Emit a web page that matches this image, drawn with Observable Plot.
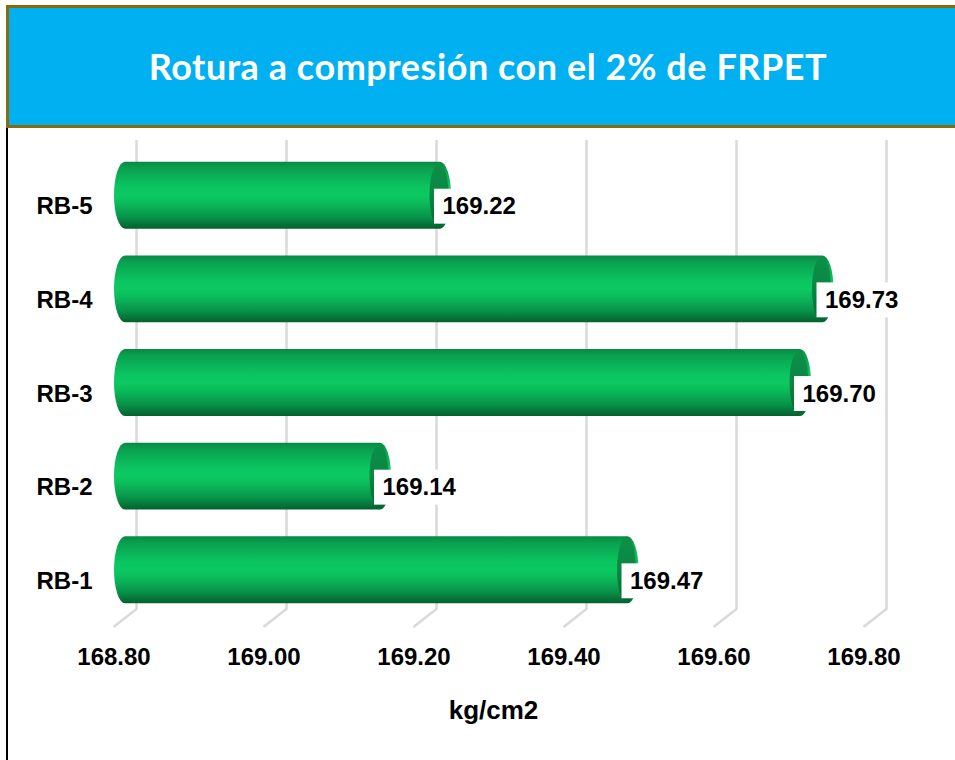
<!DOCTYPE html>
<html>
<head>
<meta charset="utf-8">
<script src="https://cdn.jsdelivr.net/npm/d3@7"></script>
<script src="https://cdn.jsdelivr.net/npm/@observablehq/plot@0.6"></script>
<style>
  html, body { margin: 0; padding: 0; background: #ffffff; }
  #wrap { position: relative; width: 955px; height: 760px; overflow: hidden; background: #fff; }
  #banner {
    position: absolute; left: 6px; top: 5px; width: 962px; height: 123px;
    box-sizing: border-box; border: 3px solid #8a6a0c; background: #00b0f0;
    display: flex; align-items: center; justify-content: center; z-index: 2;
  }
  #banner h1 {
    margin: 0; color: #fff; font-family: Lato, "Open Sans", sans-serif; font-weight: 700;
    font-size: 36px; letter-spacing: 0.55px; padding-left: 2px; padding-bottom: 2px;
  }
  #leftline { position: absolute; left: 6px; top: 128px; width: 2px; height: 640px; background: #000; z-index: 2; }
  #chart { position: absolute; left: 0; top: 128px; }
</style>
</head>
<body>
<div id="wrap">
  <div id="banner"><h1 id="title"></h1></div>
  <div id="leftline"></div>
  <div id="chart"></div>
</div>
<script>
const title = "Rotura a compresión con el 2% de FRPET";
const xLabel = "kg/cm2";
const categories = ["RB-5", "RB-4", "RB-3", "RB-2", "RB-1"];
const values = [169.22, 169.73, 169.70, 169.14, 169.47];
const xDomain = [168.8, 169.8];
const xTicks = [168.8, 169.0, 169.2, 169.4, 169.6, 169.8];

document.getElementById("title").textContent = title;

const data = categories.map((c, i) => ({cat: c, value: values[i]}));
const base = xDomain[0];
const fmt = d => d.toFixed(2);

// 3D depth offsets (style)
const depthX = 23, depthY = 18;
const midX = 11.5, midY = -11;

function gridMark(index, scales, vals, dims) {
  const ns = "http://www.w3.org/2000/svg";
  const g = document.createElementNS(ns, "g");
  const sx = scales.x;
  const top = dims.marginTop - 6;
  const backBottom = dims.height - dims.marginBottom - 32;
  const frontBottom = backBottom + depthY;
  for (const t of xTicks) {
    const x = sx(t);
    const p = document.createElementNS(ns, "path");
    p.setAttribute("d", `M${x + depthX},${top}V${backBottom}L${x},${frontBottom}`);
    p.setAttribute("fill", "none");
    p.setAttribute("stroke", "#d9d9d9");
    p.setAttribute("stroke-width", "2.5");
    g.appendChild(p);
  }
  return g;
}

const chart = Plot.plot({
  width: 955,
  height: 632,
  marginLeft: 113.5,
  marginRight: 91.5,
  marginTop: 18,
  marginBottom: 119,
  style: {fontFamily: "'Liberation Sans', Arial, sans-serif", fontWeight: "bold", color: "#000", background: "#fff", overflow: "visible"},
  x: {domain: xDomain},
  y: {domain: categories, padding: 0.2853, round: false},
  marks: [
    gridMark,
    // cylinder body
    Plot.barX(data, {
      y: "cat", x1: () => base, x2: "value",
      dx: midX, dy: midY, insetLeft: -11, insetRight: -11,
      rx: 11, ry: 33.5,
      fill: "url(#bodyGrad)"
    }),
    // end cap face (ellipse)
    Plot.barX(data, {
      y: "cat", x1: "value", x2: "value",
      dx: midX - 1, dy: midY, insetLeft: -9.5, insetRight: -9.5, insetTop: 1.5, insetBottom: 1.5,
      rx: 9.5, ry: 32,
      fill: "url(#capGrad)"
    }),
    // white label box
    Plot.barX(data, {
      y: "cat", x1: "value", x2: "value",
      insetLeft: 5.5, insetRight: -90, insetTop: 16, insetBottom: 16,
      fill: "white"
    }),
    Plot.text(data, {
      y: "cat", x: "value", text: d => fmt(d.value),
      textAnchor: "start", dx: 13.5, fontSize: 24, fontWeight: "bold", fill: "#000"
    }),
    Plot.axisY({tickSize: 0, tickPadding: 21.5, fontSize: 24, fontWeight: "bold", label: null}),
    Plot.axisX({ticks: xTicks, tickFormat: fmt, tickSize: 0, tickPadding: 6, fontSize: 24, fontWeight: "bold", label: null}),
    Plot.text([xLabel], {frameAnchor: "bottom", text: d => d, dy: 77, dx: 4.5, fontSize: 26, fontWeight: "bold", fill: "#000"})
  ]
});

// gradient definitions
const defs = d3.select(chart).insert("defs", ":first-child");
const bg = defs.append("linearGradient").attr("id", "bodyGrad").attr("x1", 0).attr("y1", 0).attr("x2", 0).attr("y2", 1);
[[0, "#0a8844"], [0.1, "#09a150"], [0.38, "#0bc560"], [0.5, "#0cc962"], [0.62, "#0abb5a"], [0.82, "#08944a"], [1, "#04602e"]]
  .forEach(([o, c]) => bg.append("stop").attr("offset", o).attr("stop-color", c));
const cg = defs.append("linearGradient").attr("id", "capGrad").attr("x1", 0).attr("y1", 0).attr("x2", 0).attr("y2", 1);
[[0, "#0c9048"], [0.5, "#0a8642"], [1, "#056632"]]
  .forEach(([o, c]) => cg.append("stop").attr("offset", o).attr("stop-color", c));

document.getElementById("chart").appendChild(chart);
</script>
</body>
</html>
